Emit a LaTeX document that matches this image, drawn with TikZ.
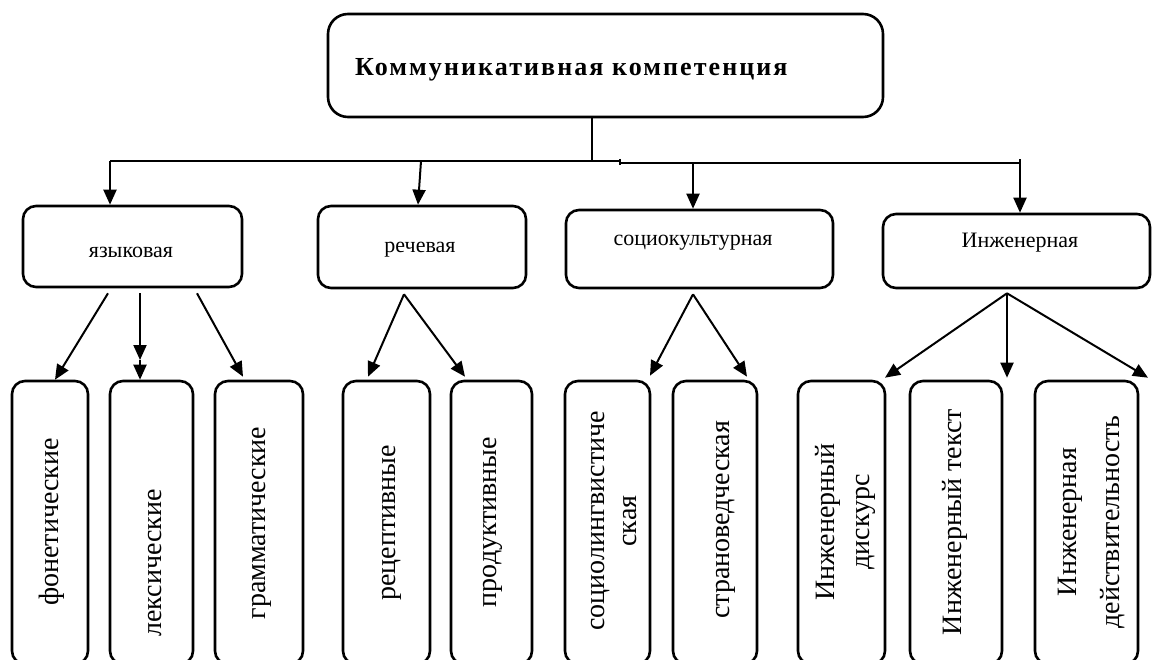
\documentclass[tikz,border=0pt]{standalone}
\usepackage{fontspec}
\setmainfont{Liberation Serif}
\newfontfamily\topfont{Liberation Serif}[LetterSpace=8]
\newfontfamily\midfont{Liberation Serif}
\newfontfamily\botfont{Liberation Serif}
\usetikzlibrary{arrows.meta}
\begin{document}
\begin{tikzpicture}[x=1pt,y=-1pt,
  box/.style={draw, line width=2.6pt, rounded corners=13pt, inner sep=0pt},
  bigbox/.style={box, rounded corners=20pt},
  bus/.style={line width=1.5pt},
  arr/.style={line width=2pt, -{Triangle[length=15pt,width=13pt]}},
  toptext/.style={inner sep=0pt, font=\topfont\bfseries\fontsize{26}{30}\selectfont},
  midtext/.style={inner sep=0pt, font=\midfont\fontsize{22}{26}\selectfont},
  bottext/.style={inner sep=0pt, rotate=90, align=center, font=\botfont\fontsize{28}{32}\selectfont},
]
\useasboundingbox (0,0) rectangle (1153,660);
\clip (0,0) rectangle (1153,660);
\fill[white] (0,0) rectangle (1153,660);

% top box
\node[bigbox, minimum width=555pt, minimum height=103pt] (top) at (605.5,65.5) {};
\node[toptext, anchor=west] (t0) at (355,70) {Коммуникативная компетенция};

% middle boxes
\node[box, minimum width=219pt, minimum height=81pt] (m1) at (132.5,246.5) {};
\node[box, minimum width=208pt, minimum height=82pt] (m2) at (422,247) {};
\node[box, minimum width=267pt, minimum height=78pt] (m3) at (699.5,249) {};
\node[box, minimum width=267pt, minimum height=74pt] (m4) at (1016.5,251) {};
\node[midtext] (t1) at (131,252) {языковая};
\node[midtext] (t2) at (420,250) {речевая};
\node[midtext] (t3) at (693,243) {социокультурная};
\node[midtext] (t4) at (1020,243) {Инженерная};

% bottom boxes
\node[box, minimum width=76pt, minimum height=283pt] (b1) at (50,522.5) {};
\node[box, minimum width=83pt, minimum height=283pt] (b2) at (151.5,522.5) {};
\node[box, minimum width=88pt, minimum height=283pt] (b3) at (259,522.5) {};
\node[box, minimum width=87pt, minimum height=283pt] (b4) at (386.5,522.5) {};
\node[box, minimum width=81pt, minimum height=283pt] (b5) at (491.5,522.5) {};
\node[box, minimum width=85pt, minimum height=283pt] (b6) at (607.5,522.5) {};
\node[box, minimum width=84pt, minimum height=283pt] (b7) at (715,522.5) {};
\node[box, minimum width=87pt, minimum height=283pt] (b8) at (841.5,522.5) {};
\node[box, minimum width=92pt, minimum height=283pt] (b9) at (956,522.5) {};
\node[box, minimum width=103pt, minimum height=283pt] (b10) at (1086.5,522.5) {};

\node[bottext] (tb1) at (52,522) {фонетические};
\node[bottext] (tb2) at (155,563) {лексические};
\node[bottext] (tb3) at (262,523) {грамматические};
\node[bottext] (tb4) at (392,523) {рецептивные};
\node[bottext] (tb5) at (493,522) {продуктивные};
\node[bottext] (tb6) at (614,521) {социолингвистиче\\ская};
\node[bottext] (tb7) at (726,520) {страноведческая};
\node[bottext, font=\botfont\fontsize{28}{35}\selectfont] (tb8) at (845,522) {Инженерный\\дискурс};
\node[bottext] (tb9) at (955,522) {Инженерный текст};
\node[bottext, font=\botfont\fontsize{28}{43}\selectfont] (tb10) at (1092,522) {Инженерная\\действительность};

% bus
\coordinate (j0) at (592,161);
\coordinate (c1) at (110,161);
\coordinate (c2) at (421,161);
\coordinate (tk) at (620,161);
\coordinate (c3) at (693,163);
\coordinate (c4) at (1020,163);
\draw[bus] (top.south -| j0) -- (j0);
\draw[bus] (c1) -- (tk) -- ++(0,2) -- (c4) -- ++(0,-4);
\draw[bus] ([yshift=2pt]tk) -- ([yshift=-4pt]tk);

\draw[arr] (c1) -- (c1 |- m1.north);
\draw[arr] (c2) -- ([xshift=-3pt]c2 |- m2.north);
\draw[arr] (c3) -- (c3 |- m3.north);
\draw[arr] (c4) -- (c4 |- m4.north);

% level 2 -> 3
\coordinate (mid) at (140,360);
\draw[arr] ([shift={(-24.5,5)}]m1.south) -- ([xshift=5pt]b1.north);
\draw[arr] ([shift={(7.5,5)}]m1.south) -- (mid);
\draw[arr] (mid) -- ([xshift=-11.5pt]b2.north);
\draw[arr] ([shift={(64.5,5)}]m1.south) -- ([shift={(-16,-3)}]b3.north);

\draw[arr] ([shift={(-18,5)}]m2.south) -- ([shift={(-18.5,-3)}]b4.north);
\draw[arr] ([shift={(-18,5)}]m2.south) -- ([shift={(-26.5,-3)}]b5.north);

\draw[arr] ([shift={(-6.5,5)}]m3.south) -- ([shift={(42.5,-4)}]b6.north);
\draw[arr] ([shift={(-6.5,5)}]m3.south) -- ([shift={(32,-3)}]b7.north);

\draw[arr] ([shift={(-9.5,4)}]m4.south) -- ([shift={(43.5,-2)}]b8.north);
\draw[arr] ([shift={(-9.5,4)}]m4.south) -- ([shift={(51,-2)}]b9.north);
\draw[arr] ([shift={(-9.5,4)}]m4.south) -- ([shift={(61.5,-2)}]b10.north);
\end{tikzpicture}
\end{document}
